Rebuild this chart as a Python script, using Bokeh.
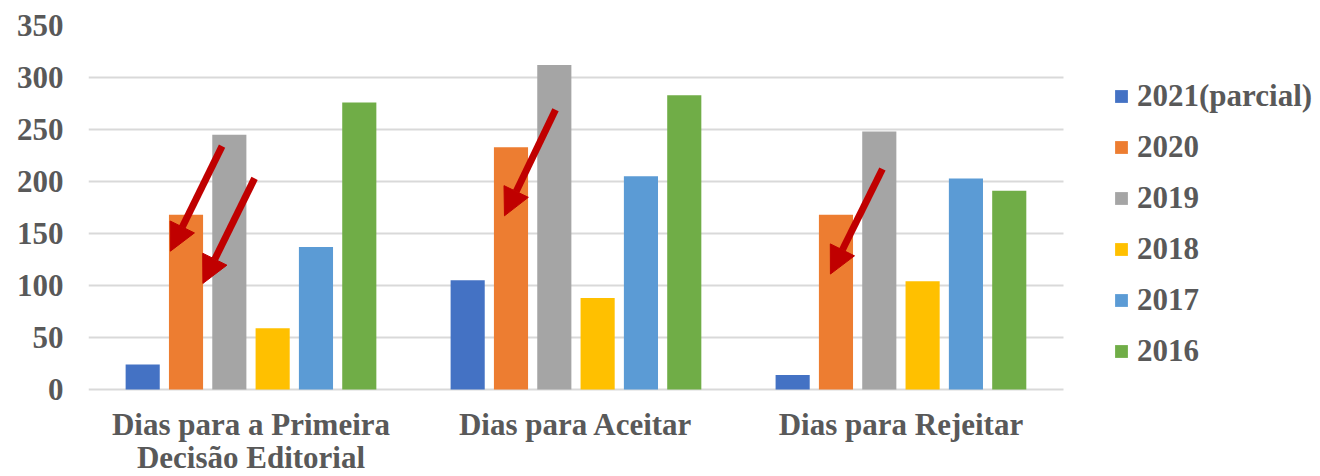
from bokeh.plotting import figure
from bokeh.models import (ColumnDataSource, Legend, LegendItem, Range1d,
                          FixedTicker, Arrow, NormalHead)
from bokeh.core.properties import value
from bokeh.embed import file_html
from bokeh.resources import INLINE

categories = ["Dias para a Primeira\nDecisão Editorial", "Dias para Aceitar", "Dias para Rejeitar"]
series = ["2021(parcial)", "2020", "2019", "2018", "2017", "2016"]
colors = ["#4472C4", "#ED7D31", "#A5A5A5", "#FFC000", "#5B9BD5", "#70AD47"]
v2021 = [24, 105, 14]
v2020 = [168, 233, 168]
v2019 = [245, 312, 248]
v2018 = [59, 88, 104]
v2017 = [137, 205, 203]
v2016 = [276, 283, 191]
y_ticks = [0, 50, 100, 150, 200, 250, 300, 350]
# annotation arrows: (x_start, y_start, x_end, y_end) in data units
arrows = [
    (0.411, 234, 0.252, 133),
    (0.511, 203, 0.352, 102),
    (1.437, 269, 1.280, 167),
    (2.443, 212, 2.283, 111),
]

values = [v2021, v2020, v2019, v2018, v2017, v2016]
n_cat = len(categories)
centers = [k + 0.5 for k in range(n_cat)]

FONT = "Liberation Serif"
TXT = "#595959"

p = figure(width=1320, height=476, x_range=Range1d(0, 3.791), y_range=Range1d(-83.65, 350),
           output_backend="svg", toolbar_location=None,
           min_border_left=88, min_border_right=0, min_border_top=25, min_border_bottom=0)
p.outline_line_color = None

step = 0.1333
renderers = []
for i, (s, c, v) in enumerate(zip(series, colors, values)):
    src = ColumnDataSource({"x": [cx + (i - 2.5) * step for cx in centers], "top": v, "cat": categories})
    r = p.vbar(x="x", top="top", width=0.105, source=src, fill_color=c, line_color=None)
    renderers.append(r)

# category labels drawn under the baseline
lab = ColumnDataSource({"x": centers, "y": [-16.4] * n_cat, "text": categories})
p.text(x="x", y="y", text="text", source=lab,
       text_font=value(FONT), text_font_style="bold", text_font_size="31px",
       text_color=TXT, text_align="center", text_baseline="top", text_line_height=0.96)

for (xs, ys, xe, ye) in arrows:
    p.add_layout(Arrow(x_start=xs, y_start=ys, x_end=xe, y_end=ye,
                       line_color="#C00000", line_width=7,
                       end=NormalHead(size=27, fill_color="#C00000", line_color="#C00000", line_width=1)))

# axes
p.xaxis.visible = False
p.yaxis.ticker = FixedTicker(ticks=y_ticks)
p.yaxis.axis_line_color = None
p.yaxis.major_tick_line_color = None
p.yaxis.minor_tick_line_color = None
p.yaxis.major_label_standoff = 19
p.yaxis.major_label_text_font = FONT
p.yaxis.major_label_text_font_style = "bold"
p.yaxis.major_label_text_font_size = "31px"
p.yaxis.major_label_text_color = TXT

p.xgrid.grid_line_color = None
p.ygrid.grid_line_color = "#D9D9D9"
p.ygrid.grid_line_width = 2
p.ygrid.cross_bounds = (0, n_cat)

legend = Legend(items=[LegendItem(label=s, renderers=[r]) for s, r in zip(series, renderers)],
                location=(1025, 107), orientation="vertical",
                glyph_width=16, glyph_height=16, label_standoff=8, spacing=15,
                padding=0, margin=0, border_line_color=None, background_fill_alpha=0,
                label_text_font=FONT, label_text_font_style="bold",
                label_text_font_size="31px", label_text_color=TXT)
p.add_layout(legend, "center")

open("out.html", "w").write(file_html(p, INLINE))
